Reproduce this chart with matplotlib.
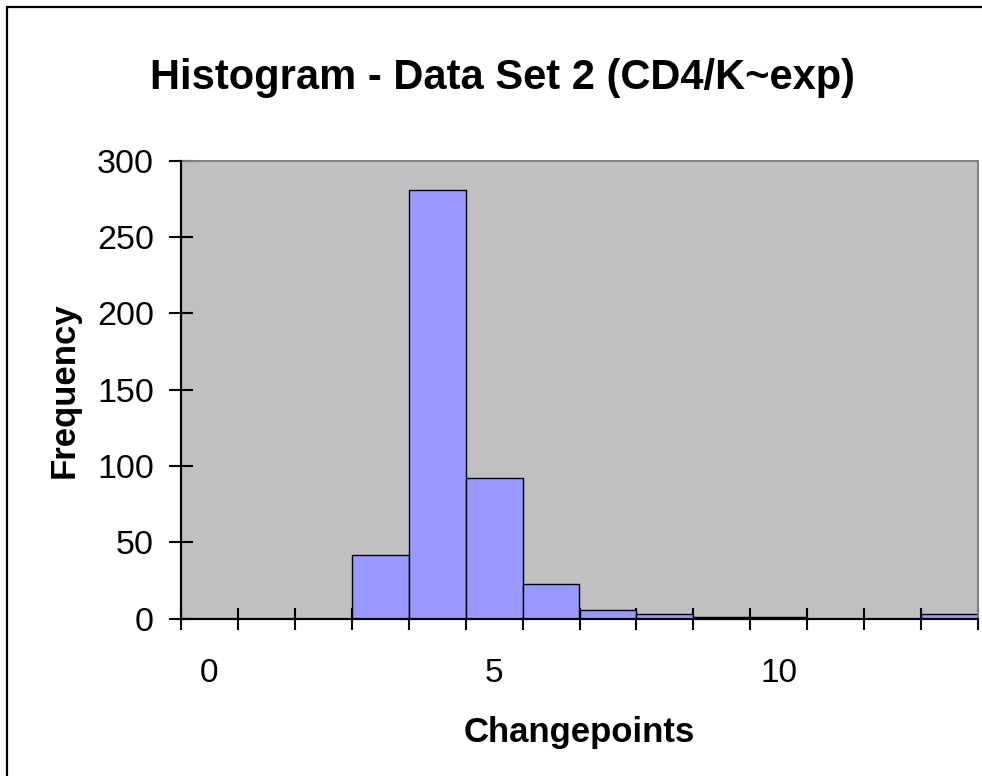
import matplotlib
matplotlib.use("Agg")
import matplotlib.pyplot as plt
from matplotlib.patches import Rectangle

plt.rcParams["font.family"] = ["Liberation Sans", "DejaVu Sans"]

# histogram counts per changepoint bin
changepoints = list(range(14))
frequency = [0, 0, 0, 42, 281, 92, 23, 6, 3, 1, 1, 0, 0, 3]
x_labels = ["0", "5", "10"]
x_label_pos = [0, 5, 10]
y_ticks = [0, 50, 100, 150, 200, 250, 300]

W, H = 982, 776
fig = plt.figure(figsize=(W / 100, H / 100), dpi=100)
ax = fig.add_axes([181 / W, 1 - 618.7 / H, (978 - 181) / W, (618.7 - 160.7) / H])
ax.set_facecolor("#C0C0C0")

ax.bar(changepoints, frequency, width=1.0, color="#9999FF",
       edgecolor="black", linewidth=1.0, zorder=2)

ax.set_xlim(-0.5, 13.5)
ax.set_ylim(0, 300)

# ticks between categories, labels every 5th category
ax.set_xticks([i - 0.5 for i in range(15)])
ax.set_xticklabels([])
ax.set_xticks(x_label_pos, minor=True)
ax.set_xticklabels(x_labels, minor=True)
ax.tick_params(axis="x", which="major", direction="inout", length=16,
               width=1.5, color="black")
ax.tick_params(axis="x", which="minor", length=0, pad=28, labelsize=24)

ax.set_yticks(y_ticks)
ax.tick_params(axis="y", direction="inout", length=17, width=1.5,
               pad=11, labelsize=24.5)

for side in ("left", "bottom"):
    ax.spines[side].set_color("black")
    ax.spines[side].set_linewidth(1.6)
    ax.spines[side].set_zorder(3)
for side in ("top", "right"):
    ax.spines[side].set_color("#808080")
    ax.spines[side].set_linewidth(1.4)

ax.set_xlabel("Changepoints", fontsize=25, fontweight="bold", labelpad=20)
ax.set_ylabel("Frequency", fontsize=25, fontweight="bold", labelpad=12)
fig.text(0.5 * (148 + 858) / W, 1 - 78 / H, "Histogram - Data Set 2 (CD4/K~exp)",
         ha="center", va="center", fontsize=30, fontweight="bold")

# outer chart frame
fig.patches.append(Rectangle((7 / W, -0.1), 1.2, 1.1 - 7 / H,
                             transform=fig.transFigure, fill=False,
                             edgecolor="black", linewidth=1.6))

fig.savefig("out.png", dpi=100)
